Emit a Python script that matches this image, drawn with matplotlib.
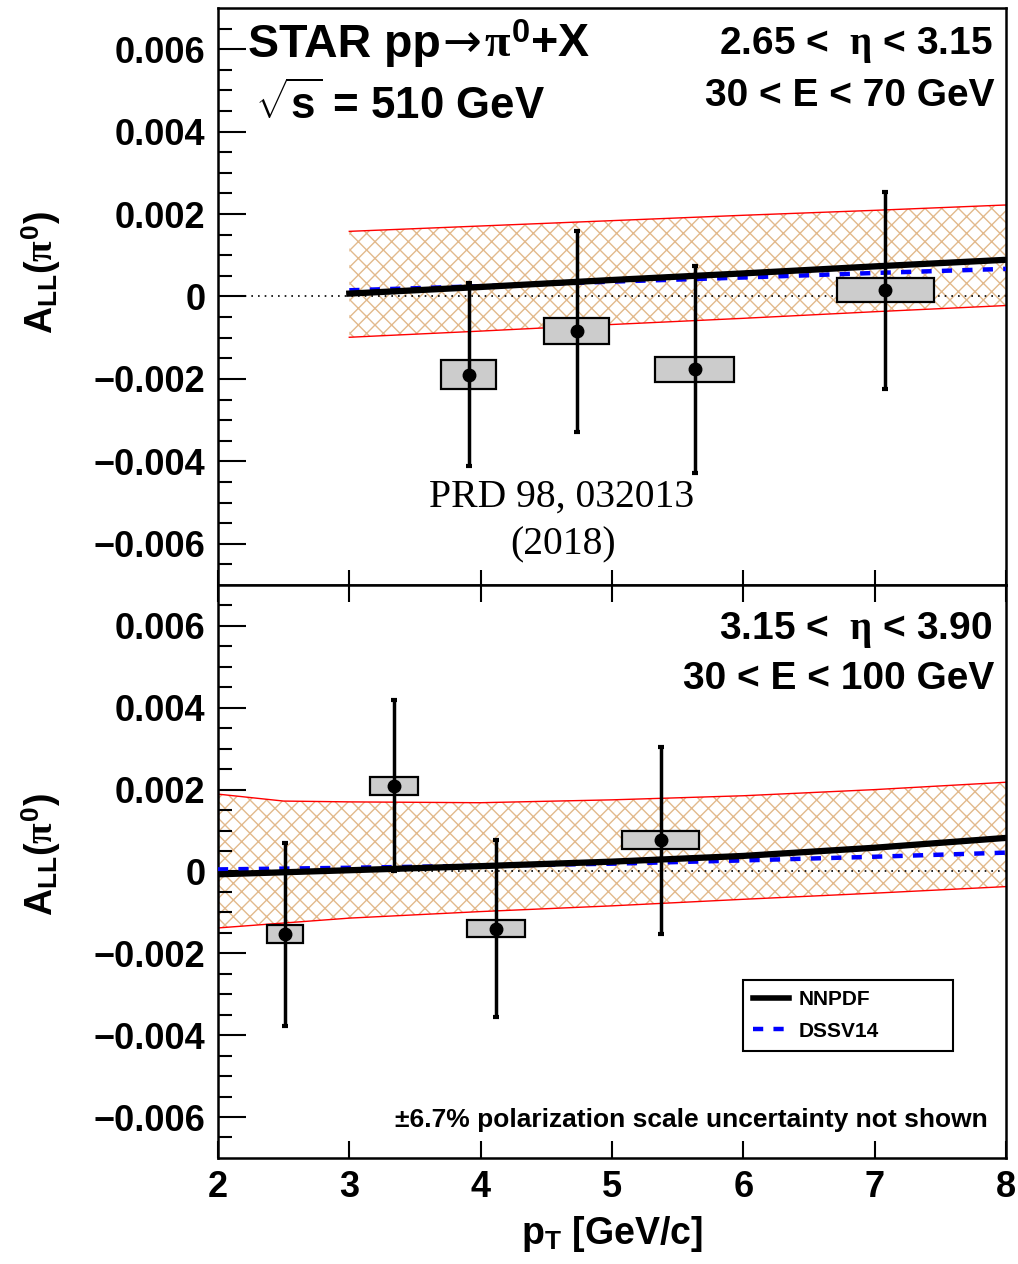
import numpy as np
import matplotlib
matplotlib.use("Agg")
import matplotlib.pyplot as plt
from matplotlib.lines import Line2D
from matplotlib.transforms import offset_copy

plt.rcParams['font.family'] = ['Liberation Sans', 'DejaVu Sans']
plt.rcParams['font.weight'] = 'bold'
plt.rcParams['mathtext.fontset'] = 'custom'
plt.rcParams['mathtext.rm'] = 'Liberation Serif'
plt.rcParams['mathtext.it'] = 'Liberation Serif'
plt.rcParams['mathtext.bf'] = 'Liberation Sans:bold'
plt.rcParams['hatch.linewidth'] = 1.0

# --- data ---
# upper panel: 2.65 < eta < 3.15
top_pt = [3.91, 4.73, 5.63, 7.08]
top_all = [-0.00190, -0.00084, -0.00177, 0.00015]
top_stat = [0.00222, 0.00244, 0.00251, 0.00239]
top_sys = [0.00035, 0.00032, 0.00031, 0.00029]
top_halfw = [0.21, 0.25, 0.30, 0.37]

top_th_pt = [3, 4, 5, 6, 7, 8]
top_band_hi = [0.00158, 0.00171, 0.00184, 0.00197, 0.00209, 0.00222]
top_band_lo = [-0.00099, -0.00084, -0.00068, -0.00053, -0.00037, -0.00022]
top_nnpdf = [0.00007, 0.00023, 0.00040, 0.00056, 0.00073, 0.00089]
top_dssv = [0.00015, 0.00025, 0.00036, 0.00046, 0.00057, 0.00067]

# lower panel: 3.15 < eta < 3.90
bot_pt = [2.51, 3.34, 4.12, 5.37]
bot_all = [-0.00154, 0.00210, -0.00140, 0.00076]
bot_stat = [0.00223, 0.00208, 0.00216, 0.00229]
bot_sys = [0.00022, 0.00022, 0.00021, 0.00022]
bot_halfw = [0.14, 0.18, 0.22, 0.29]

bot_th_pt = [2, 2.5, 3, 4, 5, 6, 7, 8]
bot_band_hi = [0.00189, 0.00172, 0.00170, 0.00168, 0.00175, 0.00185, 0.00200, 0.00218]
bot_band_lo = [-0.00138, -0.00126, -0.00114, -0.00098, -0.00084, -0.00068, -0.00053, -0.00037]
bot_nnpdf = [-0.00007, -0.00002, 0.00003, 0.00013, 0.00024, 0.00038, 0.00058, 0.00082]
bot_dssv = [0.00005, 0.00007, 0.00009, 0.00014, 0.00019, 0.00027, 0.00036, 0.00046]

ytick_vals = [0.006, 0.004, 0.002, 0, -0.002, -0.004, -0.006]
ytick_labels = ['0.006', '0.004', '0.002', '0', '\u22120.002', '\u22120.004', '\u22120.006']
xtick_vals = [2, 3, 4, 5, 6, 7, 8]

fig = plt.figure(figsize=(10.18, 12.64), dpi=100)
ax1 = fig.add_axes([0.2141, 0.5372, 0.7741, 0.4565])
ax2 = fig.add_axes([0.2141, 0.0839, 0.7741, 0.4533])

band_col = '#e2b98c'


def draw_panel(ax, pt, a, stat, sys, halfw, thpt, hi, lo, nn, ds):
    ax.fill_between(thpt, lo, hi, facecolor='none', edgecolor=band_col,
                    hatch='xx', linewidth=0, zorder=1)
    ax.plot(thpt, hi, color='red', lw=1.0, zorder=2)
    ax.plot(thpt, lo, color='red', lw=1.0, zorder=2)
    ax.axhline(0, color='black', lw=1.2, ls=(0, (1, 3)), zorder=2)
    ax.plot(thpt, ds, color='blue', lw=3.2, ls=(0, (2.3, 2.3)), zorder=3)
    ax.plot(thpt, nn, color='black', lw=4.5, zorder=4)
    ax.bar(pt, 2 * np.array(sys), width=2 * np.array(halfw),
           bottom=np.array(a) - np.array(sys), color='#cccccc',
           edgecolor='black', linewidth=1.6, zorder=5)
    ax.errorbar(pt, a, yerr=stat, fmt='o', color='black', ms=9,
                elinewidth=2.5, capsize=2.5, capthick=3, zorder=6)
    ax.set_xlim(2, 8)
    ax.set_ylim(-0.007, 0.007)
    ax.set_yticks(ytick_vals)
    ax.set_yticklabels(ytick_labels)
    ax.set_yticks(np.arange(-0.0065, 0.0070, 0.0005), minor=True)
    ax.set_xticks(xtick_vals)
    ax.tick_params(axis='y', which='major', direction='in', length=20,
                   width=1.5, labelsize=26, pad=9)
    ax.tick_params(axis='y', which='minor', direction='in', length=10,
                   width=1.5)
    ax.tick_params(axis='x', which='major', direction='in', length=11,
                   width=1.5, labelsize=26, pad=9)
    for s in ax.spines.values():
        s.set_linewidth(1.8)
    for lab in ax.get_yticklabels() + ax.get_xticklabels():
        lab.set_fontweight('bold')


draw_panel(ax1, top_pt, top_all, top_stat, top_sys, top_halfw,
           top_th_pt, top_band_hi, top_band_lo, top_nnpdf, top_dssv)
draw_panel(ax2, bot_pt, bot_all, bot_stat, bot_sys, bot_halfw,
           bot_th_pt, bot_band_hi, bot_band_lo, bot_nnpdf, bot_dssv)

ax1.tick_params(axis='x', labelbottom=False)
ax2.tick_params(axis='x', top=True, length=12)

ylab = r'A$_{\mathbf{LL}}$($\pi^{\mathbf{0}}$)'
ax1.set_ylabel(ylab, fontsize=27, fontweight='bold')
ax2.set_ylabel(ylab, fontsize=27, fontweight='bold')
ax1.yaxis.set_label_coords(-0.197, 0.542)
ax2.yaxis.set_label_coords(-0.197, 0.529)
ax2.set_xlabel(r'p$_{\mathbf{T}}$ [GeV/c]', fontsize=27, fontweight='bold',
               labelpad=6)

# title: "STAR pp" + thin arrow + "pi0+X", pieced together on one baseline
tx, ty = 0.038, 0.915
tsize = 33.5
t1 = ax1.text(tx, ty, 'STAR pp', transform=ax1.transAxes, fontsize=tsize,
              fontweight='bold', ha='left', va='baseline')
fig.canvas.draw()
rend = fig.canvas.get_renderer()
w1 = t1.get_window_extent(rend).width
t2 = ax1.text(tx, ty, '\u2192', fontsize=tsize, fontweight='normal',
              family='DejaVu Sans', ha='left', va='baseline',
              transform=offset_copy(ax1.transAxes, fig, x=w1 + 2, y=0,
                                    units='dots'))
w2 = t2.get_window_extent(rend).width
ax1.text(tx, ty, r'$\pi^{\mathbf{0}}$+X', fontsize=tsize, fontweight='bold',
         ha='left', va='baseline',
         transform=offset_copy(ax1.transAxes, fig, x=w1 + w2 + 4, y=0,
                               units='dots'))

ax1.text(0.047, 0.832, r'$\sqrt{\mathbf{s}}$ = 510 GeV',
         transform=ax1.transAxes, fontsize=31.5, fontweight='bold',
         ha='left', va='center')
ax1.text(0.983, 0.936, r'2.65 <  $\eta$ < 3.15', transform=ax1.transAxes,
         fontsize=28, fontweight='bold', ha='right', va='center')
ax1.text(0.985, 0.847, '30 < E < 70 GeV', transform=ax1.transAxes,
         fontsize=28, fontweight='bold', ha='right', va='center')
ax1.text(0.4365, 0.1525, 'PRD 98, 032013', transform=ax1.transAxes,
         fontsize=28.5, fontweight='normal', family='Liberation Serif',
         ha='center', va='center')
ax1.text(0.4375, 0.069, '(2018)', transform=ax1.transAxes,
         fontsize=28.5, fontweight='normal', family='Liberation Serif',
         ha='center', va='center')

ax2.text(0.983, 0.921, r'3.15 <  $\eta$ < 3.90', transform=ax2.transAxes,
         fontsize=28, fontweight='bold', ha='right', va='center')
ax2.text(0.985, 0.836, '30 < E < 100 GeV', transform=ax2.transAxes,
         fontsize=28, fontweight='bold', ha='right', va='center')
ax2.text(0.977, 0.066, '\u00b16.7% polarization scale uncertainty not shown',
         transform=ax2.transAxes, fontsize=19, fontweight='bold',
         ha='right', va='center')

handles = [Line2D([], [], color='black', lw=4),
           Line2D([], [], color='blue', lw=3.2, ls=(0, (2.3, 2.3)))]
leg = ax2.legend(handles, ['NNPDF', 'DSSV14'], loc='upper left',
                 bbox_to_anchor=(0.666, 0.188, 0.267, 0.123), mode='expand',
                 prop={'weight': 'bold', 'size': 15},
                 frameon=True, fancybox=False, framealpha=1,
                 edgecolor='black', handlelength=1.7, borderpad=0.5,
                 labelspacing=0.6, handletextpad=0.5, borderaxespad=0)
leg.get_frame().set_linewidth(1.5)

fig.savefig('out.png', dpi=100)
